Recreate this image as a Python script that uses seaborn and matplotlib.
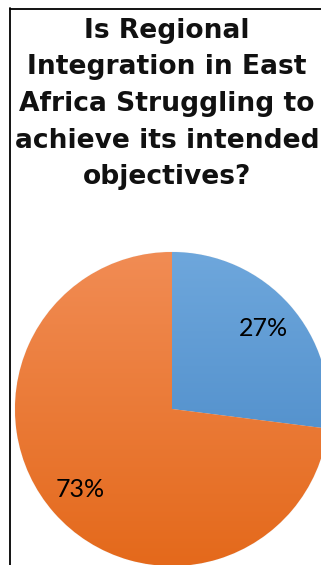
import numpy as np
import matplotlib
matplotlib.use("Agg")
import matplotlib.pyplot as plt
from matplotlib.colors import LinearSegmentedColormap
from matplotlib.lines import Line2D
import seaborn as sns

# ---- data ----
categories = ["No", "Yes"]
values = [27, 73]
title_lines = ["Is Regional", "Integration in East", "Africa Struggling to",
               "achieve its intended", "objectives?"]
top_colors = ["#6EA7DC", "#F18C54"]
bottom_colors = ["#4283C3", "#E4691B"]

sns.set_theme(style="white")
plt.rcParams["font.family"] = ["DejaVu Sans"]

W, H = 321, 565
fig = plt.figure(figsize=(W / 100, H / 100), dpi=100)
fig.patch.set_facecolor("white")

# borders
fig.add_artist(Line2D([10.5 / W, 1.0], [1 - 8.5 / H, 1 - 8.5 / H],
                      transform=fig.transFigure, color="black", lw=1.3))
fig.add_artist(Line2D([10.5 / W, 10.5 / W], [1 - 8.0 / H, 0.0],
                      transform=fig.transFigure, color="black", lw=1.3))

# title lines
for i, line in enumerate(title_lines):
    y = 37.5 + 36.7 * i
    fig.text(167 / W, 1 - y / H, line, ha="center", va="baseline",
             fontsize=19.1, fontweight="bold", color="#111111",
             family=["DejaVu Sans"])

# pie
cx, cy, r = 172, 409, 157
ax = fig.add_axes([(cx - r) / W, 1 - (cy + r) / H, 2 * r / W, 2 * r / H])
ax.set_facecolor("none")
wedges, texts, autotexts = ax.pie(
    values, labels=None, colors=top_colors, startangle=90, counterclock=False,
    autopct=lambda p: f"{p:.0f}%", pctdistance=0.78,
    wedgeprops=dict(edgecolor="#f4f4f4", linewidth=0.6),
    textprops=dict(fontsize=18, color="black",
                   family=["Liberation Sans Narrow", "Lato", "DejaVu Sans"]))
ax.set_xlim(-1, 1)
ax.set_ylim(-1, 1)
ax.set_aspect("equal")
ax.axis("off")

grad = np.linspace(0, 1, 256).reshape(-1, 1)
for w, c0, c1 in zip(wedges, top_colors, bottom_colors):
    cmap = LinearSegmentedColormap.from_list("g", [c0, c1])
    im = ax.imshow(grad, cmap=cmap, extent=[-1, 1, -1, 1], origin="upper",
                   aspect="auto", zorder=1.5, interpolation="bilinear")
    im.set_clip_path(w)
for t in autotexts:
    t.set_zorder(5)

fig.savefig("out.png", dpi=100)
